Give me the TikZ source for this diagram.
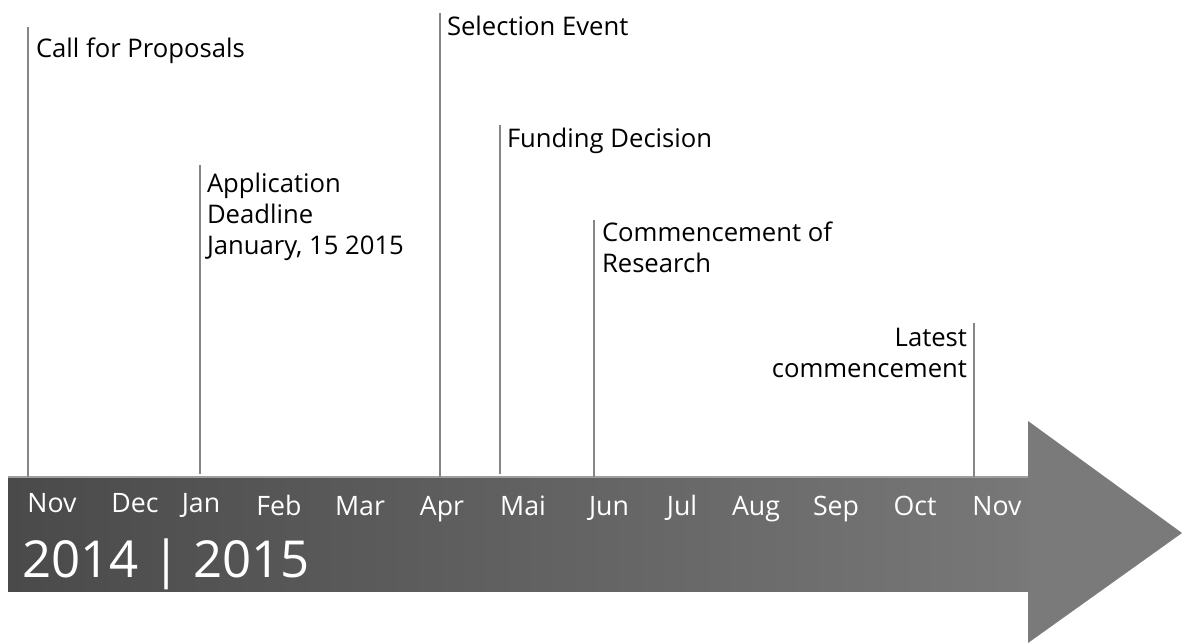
\documentclass[tikz,border=0pt]{standalone}
\usepackage{fontspec}
\setmainfont{Open Sans}
\usetikzlibrary{shapes.geometric}
\definecolor{tick}{HTML}{868686}
\definecolor{headgray}{HTML}{7A7A7A}
\definecolor{bodyleft}{HTML}{4A4A4A}
\definecolor{bodyright}{HTML}{787878}
\tikzset{
  marker/.style={draw=tick, line width=1.4pt},
  lbl/.style={inner sep=0pt, outer sep=0pt, font=\fontsize{14.6pt}{17.6pt}\selectfont, text=black, align=left},
  lblr/.style={lbl, align=right},
  month/.style={inner sep=0pt, font=\fontsize{15.2pt}{18pt}\selectfont, text=white, anchor=base},
  year/.style={inner sep=0pt, font=\fontsize{29pt}{32pt}\selectfont, text=white, anchor=base west}
}
\begin{document}
\begin{tikzpicture}[x=0.02cm, y=-0.02cm]
\useasboundingbox (0,0) rectangle (1182,643);
% arrow
\shade[left color=bodyleft, right color=bodyright] (8,477) rectangle (1030,591);
\draw[tick!80, line width=0.6pt] (8,477) -- (1030,477);
\fill[headgray] (1028,421) -- (1182,533) -- (1028,643) -- cycle;
% marker tops
\coordinate (t1) at (28,27);
\coordinate (b1) at (28,477);
\coordinate (t2) at (200,165);
\coordinate (b2) at (200,474);
\coordinate (t3) at (440,13);
\coordinate (b3) at (440,477);
\coordinate (t4) at (500,125);
\coordinate (b4) at (500,474);
\coordinate (t5) at (594,220);
\coordinate (b5) at (594,477);
\coordinate (t6) at (974,323);
\coordinate (b6) at (974,477);
\foreach \i in {1,...,6} {\draw[marker] (t\i) -- (b\i);}
% labels
\node[lbl, anchor=base west] (l1) at (36,57) {Call for Proposals};
\node[lbl, anchor=base west] (l2) at (207,254) {Application\\Deadline\\January, 15 2015};
\node[lbl, anchor=base west] (l3) at (447,35) {Selection Event};
\node[lbl, anchor=base west] (l4) at (507,147) {Funding Decision};
\node[lbl, anchor=base west] (l5) at (602,272) {Commencement of\\Research};
\node[lblr, anchor=base east] (l6) at (967,377) {Latest\\commencement};
% months
\node[month] (m1) at (52,512) {Nov};
\node[month] (m2) at (135,512) {Dec};
\node[month] (m3) at (201,512) {Jan};
\node[month] (m4) at (279,515) {Feb};
\node[month] (m5) at (360,515) {Mar};
\node[month] (m6) at (442,515) {Apr};
\node[month] (m7) at (523,515) {Mai};
\node[month] (m8) at (609,515) {Jun};
\node[month] (m9) at (682,515) {Jul};
\node[month] (m10) at (756,515) {Aug};
\node[month] (m11) at (836,515) {Sep};
\node[month] (m12) at (915,515) {Oct};
\node[month] (m13) at (997,515) {Nov};
% years
\node[year] (yr) at (22,577) {2014 | 2015};
\end{tikzpicture}
\end{document}
